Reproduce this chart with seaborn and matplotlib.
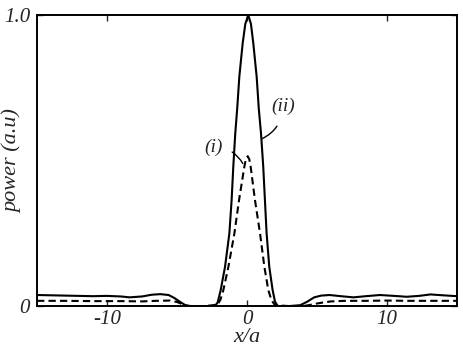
import pandas as pd
import numpy as np
import matplotlib
matplotlib.use('Agg')
import matplotlib.pyplot as plt
import seaborn as sns

# curve (ii), solid
x_ii = [-15, -14, -13, -12, -11, -10, -9, -8.4, -7.5, -6.8, -6.2, -5.6, -5.2, -4.8, -4.4, -4.0,
        -3.0, -2.3, -2.1, -1.88, -1.57, -1.26, -1.1, -0.98, -0.84, -0.7, -0.55, -0.31, -0.12,
        0.09, 0.28, 0.45, 0.69, 0.84, 1.0, 1.16, 1.28, 1.4, 1.59, 1.83, 2.0, 2.2, 3.0, 3.8,
        4.3, 4.8, 5.3, 5.9, 6.7, 7.6, 8.5, 9.5, 10.5, 11.4, 12.3, 13.1, 14, 15]
p_ii = [0.038, 0.037, 0.036, 0.035, 0.034, 0.035, 0.033, 0.030, 0.033, 0.039, 0.041, 0.038,
        0.028, 0.015, 0.003, 0.0, 0.0, 0.0, 0.012, 0.055, 0.135, 0.25, 0.364, 0.479, 0.593,
        0.679, 0.788, 0.903, 0.97, 1.0, 0.97, 0.903, 0.788, 0.679, 0.593, 0.479, 0.364, 0.25,
        0.135, 0.055, 0.015, 0.0, 0.0, 0.003, 0.015, 0.03, 0.036, 0.038, 0.034, 0.030, 0.034,
        0.038, 0.035, 0.032, 0.035, 0.040, 0.037, 0.034]

# curve (i), dashed
x_i = [-15, -13, -11, -9, -7.5, -6.5, -5.5, -5.0, -4.6, -4.2, -3, -2.1, -1.9, -1.69, -1.33,
       -0.9, -0.57, -0.19, -0.08, 0.05, 0.16, 0.26, 0.57, 0.93, 1.24, 1.52, 1.75, 2.0, 3,
       4.0, 4.4, 4.9, 5.4, 6.0, 7, 8.5, 10, 11.5, 13, 15]
p_i = [0.018, 0.018, 0.017, 0.017, 0.016, 0.018, 0.019, 0.014, 0.006, 0.0, 0.0, 0.005, 0.022,
       0.055, 0.135, 0.25, 0.364, 0.479, 0.505, 0.515, 0.505, 0.479, 0.364, 0.25, 0.135,
       0.055, 0.02, 0.003, 0.0, 0.0, 0.003, 0.008, 0.012, 0.016, 0.018, 0.018, 0.019, 0.018,
       0.018, 0.018]

xticks = [-10, 0, 10]
yticks = [0, 1.0]
ytick_labels = ['0', '1.0']

df = pd.concat([
    pd.DataFrame({'x': x_ii, 'power': p_ii, 'curve': '(ii)'}),
    pd.DataFrame({'x': x_i, 'power': p_i, 'curve': '(i)'}),
])

sns.set_style('ticks')
plt.rcParams['font.family'] = ['Liberation Serif', 'DejaVu Serif']
plt.rcParams['font.style'] = 'italic'

fig = plt.figure(figsize=(4.63, 3.51), dpi=100)
ax = fig.add_axes([0.080, 0.128, 0.907, 0.829])

sns.lineplot(data=df, x='x', y='power', style='curve', style_order=['(ii)', '(i)'],
             dashes={'(ii)': '', '(i)': (3.5, 2)}, color='black', linewidth=1.5,
             legend=False, ax=ax, sort=False, estimator=None)

ax.set_xlim(-15, 15)
ax.set_ylim(0, 1.0)
ax.set_xticks(xticks)
ax.set_xticklabels([str(t) for t in xticks], fontsize=15, style='italic')
ax.set_yticks(yticks)
ax.set_yticklabels(ytick_labels, fontsize=15, style='italic')
ax.tick_params(direction='in', length=4, width=1, top=True, right=True, pad=3)
ax.tick_params(axis='y', pad=5)
for s in ax.spines.values():
    s.set_linewidth(1.4)
    s.set_color('black')

ax.set_xlabel('x/a', fontsize=16, style='italic')
ax.set_ylabel('power (a.u)', fontsize=16, style='italic')
ax.xaxis.set_label_coords(0.5, -0.075)
ax.yaxis.set_label_coords(-0.034, 0.5)

ax.annotate('(ii)', xy=(1.07, 0.575), xytext=(2.55, 0.685), fontsize=14, style='italic',
            ha='center', va='center',
            arrowprops=dict(arrowstyle='-', color='black', lw=1,
                            connectionstyle='arc3,rad=-0.3', shrinkA=6, shrinkB=0))
ax.annotate('(i)', xy=(-0.3, 0.49), xytext=(-2.4, 0.545), fontsize=14, style='italic',
            ha='center', va='center',
            arrowprops=dict(arrowstyle='-', color='black', lw=1,
                            connectionstyle='arc3,rad=-0.3', shrinkA=5, shrinkB=0))

fig.savefig('out.png', dpi=100)
